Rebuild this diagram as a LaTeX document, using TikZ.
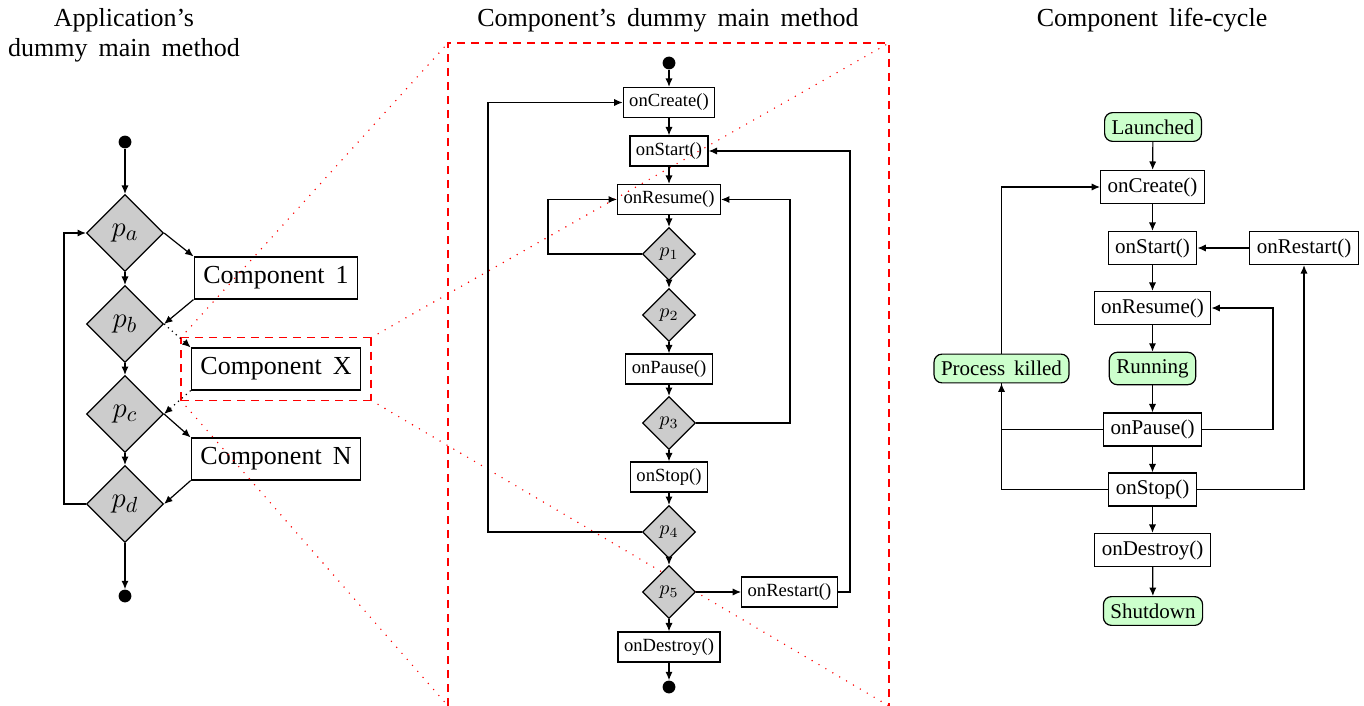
\documentclass[tikz,border=0pt]{standalone}
\usepackage{fontspec}
\setmainfont{Liberation Serif}[WordSpace=1.7]
\usetikzlibrary{shapes.geometric,arrows.meta,fit}
\definecolor{zred}{RGB}{255,0,0}
\tikzset{
  arr/.style={-{Latex[length=4.2pt,width=3.6pt]}, line width=0.6pt},
  ln/.style={line width=0.6pt},
  dec/.style={diamond, draw, fill=gray!40, inner sep=0pt, line width=0.6pt},
  decL/.style={dec, minimum size=38.5pt, font=\fontsize{15}{17}\selectfont},
  decM/.style={dec, minimum size=26.5pt, font=\fontsize{10}{12}\selectfont},
  boxL/.style={draw, rectangle, line width=0.6pt, inner xsep=4.6pt, inner ysep=4.8pt, font=\fontsize{13}{15}\selectfont},
  boxM/.style={draw, rectangle, line width=0.6pt, inner xsep=3pt, inner ysep=3.3pt, font=\fontsize{9.3}{11}\selectfont},
  boxR/.style={draw, rectangle, line width=0.6pt, inner sep=3.5pt, font=\fontsize{10.5}{12}\selectfont},
  stateR/.style={boxR, rounded corners=4pt, fill=green!20},
  dotn/.style={circle, fill=black, inner sep=0pt, minimum size=6.4pt},
  title/.style={font=\fontsize{13}{15}\selectfont, anchor=base},
  zoomline/.style={color=zred, line width=0.8pt, line cap=round, dash pattern=on 0pt off 4pt},
  zoombox/.style={color=zred, line width=0.7pt, dash pattern=on 4pt off 3pt},
}
\begin{document}
\begin{tikzpicture}[x=0.5pt,y=-0.5pt]
\useasboundingbox (0,0) rectangle (1364,706);

% titles
\node[title] (t1a) at (124,27) {Application's};
\node[title] (t1b) at (124,57) {dummy main method};
\node[title] (t2) at (668,27) {Component's dummy main method};
\node[title] (t3) at (1152,27) {Component life-cycle};

% ---------------- left panel
\node[dotn] (s1) at (125,142) {};
\node[decL] (pa) at (125,233) {$p_a$};
\node[decL] (pb) at (125,324) {$p_b$};
\node[decL] (pc) at (125,414) {$p_c$};
\node[decL] (pd) at (125,504) {$p_d$};
\node[dotn] (e1) at (125,596) {};
\node[boxL] (c1) at (276,278) {Component 1};
\node[boxL] (cx) at (276,369) {Component X};
\node[boxL] (cn) at (276,459) {Component N};
\node[fit=(cx), inner sep=4.7pt] (zx) {};

% ---------------- zoom frame
\coordinate (bTL) at (448,43);
\coordinate (bTR) at (889,43);
\coordinate (bBL) at (448,706);
\coordinate (bBR) at (889,706);
\draw[zoomline] (zx.north west) -- (bTL);
\draw[zoomline] (zx.north east) -- (bTR);
\draw[zoomline] (zx.south west) -- (bBL);
\draw[zoomline] (zx.south east) -- (bBR);
\draw[zoombox] (bBL) -- (bTL) -- (bTR) -- (bBR);
\draw[zoombox] (zx.north west) -- (zx.north east);
\draw[zoombox] (zx.north east) -- (zx.south east);
\draw[zoombox] (zx.south east) -- (zx.south west);
\draw[zoombox] (zx.south west) -- (zx.north west);

\draw[arr] (s1) -- (pa);
\draw[arr] (pa) -- (pb);
\draw[arr] (pb) -- (pc);
\draw[arr] (pc) -- (pd);
\draw[arr] (pd) -- (e1);
\draw[arr] (pa.east) -- (c1.north west);
\draw[arr] (c1.south west) -- (pb.east);
\draw[arr, dotted] (pb.east) -- (cx.north west);
\draw[arr, dotted] (cx.south west) -- (pc.east);
\draw[arr] (pc.east) -- (cn.north west);
\draw[arr] (cn.south west) -- (pd.east);
\coordinate (lp) at (64,504);
\draw[arr] (pd.west) -- (lp) |- (pa.west);

% ---------------- middle panel
\node[dotn] (s2) at (669,63) {};
\node[boxM] (oc) at (669,102.5) {onCreate()};
\node[boxM] (os) at (669,151) {onStart()};
\node[boxM] (or) at (669,199.5) {onResume()};
\node[decM] (p1) at (669,254) {$p_1$};
\node[decM] (p2) at (669,315) {$p_2$};
\node[boxM] (opa) at (669,369) {onPause()};
\node[decM] (p3) at (669,423) {$p_3$};
\node[boxM] (ost) at (669,477) {onStop()};
\node[decM] (p4) at (669,532) {$p_4$};
\node[decM] (p5) at (669,592) {$p_5$};
\node[boxM] (od) at (669,647) {onDestroy()};
\node[dotn] (e2) at (669,687) {};
\node[boxM] (ors) at (789.5,592) {onRestart()};

\draw[arr] (s2) -- (oc);
\draw[arr] (oc) -- (os);
\draw[arr] (os) -- (or);
\draw[arr] (or) -- (p1);
\draw[arr] (p1) -- (p2);
\draw[arr] (p2) -- (opa);
\draw[arr] (opa) -- (p3);
\draw[arr] (p3) -- (ost);
\draw[arr] (ost) -- (p4);
\draw[arr] (p4) -- (p5);
\draw[arr] (p5) -- (od);
\draw[arr] (od) -- (e2);
\draw[arr] (p5) -- (ors);
\coordinate (m1) at (488,532);
\coordinate (m2) at (548,254);
\coordinate (m3) at (790,423);
\coordinate (m4) at (850,592);
\draw[arr] (p4.west) -- (m1) |- (oc.west);
\draw[arr] (p1.west) -- (m2) |- (or.west);
\draw[arr] (p3.east) -- (m3) |- (or.east);
\draw[arr] (ors.east) -- (m4) |- (os.east);

% ---------------- right panel
\node[stateR] (la) at (1153,127) {Launched};
\node[boxR] (rc) at (1152.5,187) {onCreate()};
\node[boxR] (rs) at (1152.5,248) {onStart()};
\node[boxR] (rre) at (1304,248) {onRestart()};
\node[boxR] (rr) at (1152.5,308) {onResume()};
\node[stateR] (run) at (1152.5,368.5) {Running};
\node[stateR] (pk) at (1001.5,368.5) {Process killed};
\node[boxR] (rp) at (1152.5,429.5) {onPause()};
\node[boxR] (rst) at (1152.5,489.5) {onStop()};
\node[boxR] (rd) at (1152.5,550) {onDestroy()};
\node[stateR] (sd) at (1153,611) {Shutdown};

\draw[arr] (la) -- (rc);
\draw[arr] (rc) -- (rs);
\draw[arr] (rs) -- (rr);
\draw[arr] (rr) -- (run);
\draw[arr] (run) -- (rp);
\draw[arr] (rp) -- (rst);
\draw[arr] (rst) -- (rd);
\draw[arr] (rd) -- (sd);
\draw[arr] (rre) -- (rs);
\draw[arr] (pk.north) |- (rc.west);
\draw[arr] (rp.west) -| (pk.south);
\draw[ln] (rst.west) -| (pk.south);
\coordinate (r2) at (1273,429.5);
\draw[arr] (rp.east) -- (r2) |- (rr.east);
\draw[arr] (rst.east) -| (rre.south);
\end{tikzpicture}
\end{document}
